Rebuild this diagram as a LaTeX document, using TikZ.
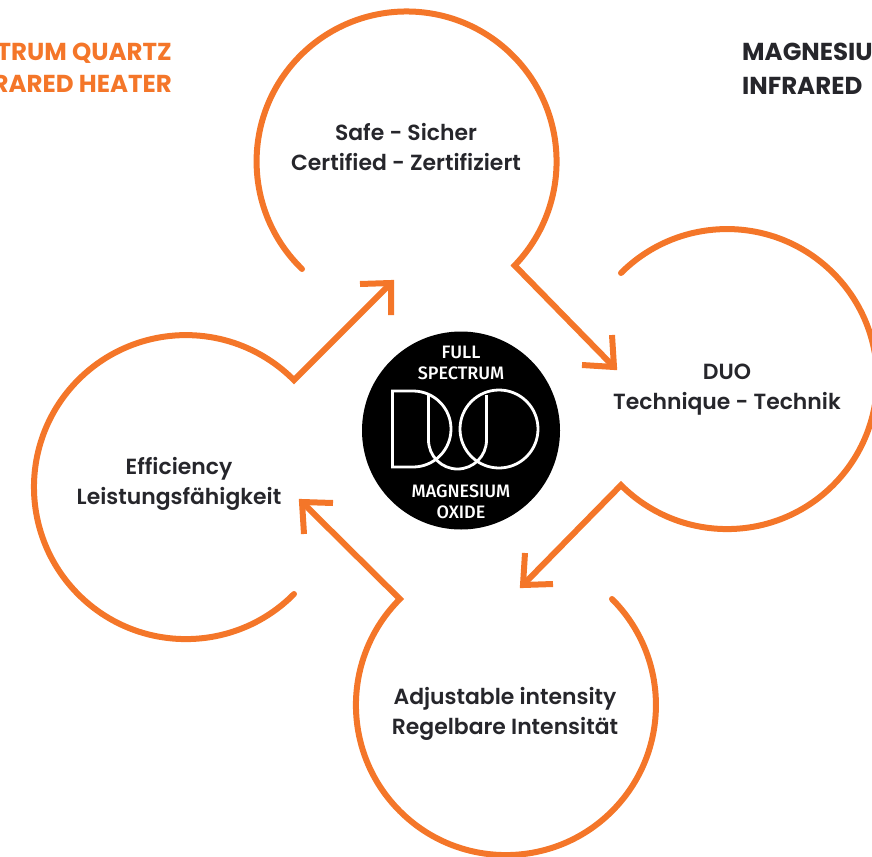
\documentclass[tikz,border=0pt]{standalone}
\usepackage{fontspec}
\setmainfont{Poppins SemiBold}
\newfontfamily\cornerfont{Poppins}
\newfontfamily\logofont{Fira Sans Medium}
\definecolor{brandorange}{HTML}{F47629}
\definecolor{inkdark}{HTML}{26262B}
\tikzset{
  ring/.style={draw=brandorange,line width=6pt,line cap=round,line join=miter},
  tip/.style={draw=brandorange,line width=6pt,line cap=butt,line join=miter},
  label/.style={text=inkdark,font=\fontsize{21.9}{30}\selectfont,align=center,inner sep=0pt},
  corner/.style={font=\cornerfont\bfseries\fontsize{24.5}{34}\selectfont,align=left,inner sep=0pt},
  cornerb/.style={font=\cornerfont\bfseries\fontsize{24.5}{32}\selectfont,align=right,inner sep=0pt},
  logotext/.style={text=white,font=\logofont\fontsize{18}{20.5}\selectfont,align=center,inner sep=0pt},
  logoline/.style={draw=white,line width=2.8pt}
}
\begin{document}
\begin{tikzpicture}[x=1pt,y=-1pt]
\useasboundingbox (0,0) rectangle (872,856);
\clip (0,0) rectangle (872,856);
% junctions
\coordinate (tstart) at (302,269);
\coordinate (tend) at (516,268);
\coordinate (ttip) at (614,367);
\coordinate (rstart) at (621,273);
\coordinate (rend) at (621,487);
\coordinate (rtip) at (523,585);
\coordinate (bstart) at (612,599);
\coordinate (bend) at (400,599);
\coordinate (btip) at (302,502);
\coordinate (lstart) at (294,594);
\coordinate (lend) at (294,380);
\coordinate (ltip) at (391,283);
% rings with their arrows
\draw[ring] (tstart) arc[start angle=134.2,end angle=403.9,radius=150] -- (ttip);
\draw[ring] (rstart) arc[start angle=225,end angle=495,radius=150] -- (rtip);
\draw[ring] (bstart) arc[start angle=-45,end angle=225,radius=150] -- (btip);
\draw[ring] (lstart) arc[start angle=44.7,end angle=315.3,radius=152] -- (ltip);
% arrowheads
\draw[tip] (582,365) -- (ttip) -- (612,335);
\draw[tip] (553,584) -- (rtip) -- (525,553);
\draw[tip] (333,503) -- (btip) -- (304,534);
\draw[tip] (360,284) -- (ltip) -- (391,315);
% labels
\node[label] (safe) at (406,147) {Safe - Sicher\\Certified - Zertifiziert};
\node[label] (duo) at (727,390) {DUO\\Technique - Technik};
\node[label] (adj) at (505,714) {Adjustable intensity\\Regelbare Intensität};
\node[label] (eff) at (179,484) {Efficiency\\Leistungsfähigkeit};
\node[cornerb,text=brandorange,anchor=east] (qh) at (172,68) {TRUM QUARTZ\\RARED HEATER};
\node[corner,text=inkdark,anchor=west] (mg) at (742,69) {MAGNESIU\\INFRARED};
% badge
\node[circle,fill=black,minimum size=198pt,inner sep=0pt] (badge) at (461,430.5) {};
\node[logotext] (full) at (461,363) {FULL\\SPECTRUM};
\node[logotext] (mgo) at (461,502) {MAGNESIUM\\OXIDE};
\draw[logoline] (413,391) -- (392.5,391) -- (392.5,467) -- (413,467) arc[start angle=90,end angle=-90,radius=38];
\draw[logoline] (428.5,395) -- (428.5,440) arc[start angle=180,end angle=0,radius=29] -- (486.5,395);
\node[circle,draw=white,line width=2.8pt,minimum size=78pt,inner sep=0pt] (ring) at (499,429) {};
\end{tikzpicture}
\end{document}
